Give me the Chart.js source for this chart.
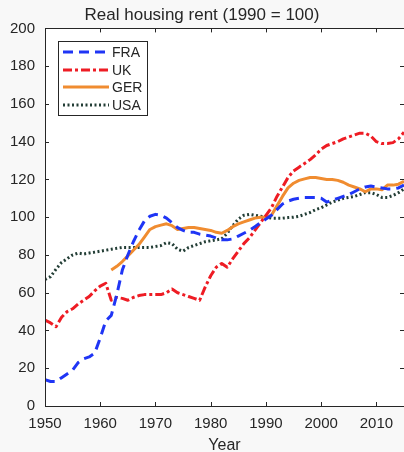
<!DOCTYPE html>
<html>
<head>
<meta charset="utf-8">
<script src="https://cdn.jsdelivr.net/npm/chart.js@4/dist/chart.umd.min.js"></script>
<style>
  html, body { margin: 0; padding: 0; background: #f8f8f8; }
  #wrap { width: 404px; height: 452px; }
</style>
</head>
<body>
<div id="wrap"><canvas id="rentChart" width="404" height="452"></canvas></div>
<script>
// Years on the x axis
const years = [
  1950, 1951, 1952, 1953, 1954, 1955, 1956, 1957, 1958, 1959,
  1960, 1961, 1962, 1963, 1964, 1965, 1966, 1967, 1968, 1969,
  1970, 1971, 1972, 1973, 1974, 1975, 1976, 1977, 1978, 1979,
  1980, 1981, 1982, 1983, 1984, 1985, 1986, 1987, 1988, 1989,
  1990, 1991, 1992, 1993, 1994, 1995, 1996, 1997, 1998, 1999,
  2000, 2001, 2002, 2003, 2004, 2005, 2006, 2007, 2008, 2009,
  2010, 2011, 2012, 2013, 2014, 2015
];

// Real housing rent index (1990 = 100)
const fraValues = [
  14, 13, 13, 15, 17, 19, 23, 25, 26, 28,
  36, 45, 48, 59, 72, 80, 87, 93, 98, 100.5,
  101.5, 101, 99.5, 97, 94.5, 93, 92, 92, 91, 90.5,
  90, 89, 88, 88, 88.5, 90, 91.5, 93, 95, 97,
  99, 101, 104, 107, 108.5, 109.5, 110, 110.5, 110.5, 110.5,
  110, 108, 109, 110, 111, 112, 113.5, 115, 116, 116.5,
  116, 115.5, 115, 115, 115.5, 117
];
const ukValues = [
  45.5, 44, 42, 47, 50, 51.5, 54, 56, 58, 61,
  63.5, 65, 56, 57.5, 57, 56, 57.5, 58.5, 59, 59,
  59, 59, 60, 62, 60, 59, 58, 57, 56, 63,
  69, 73.5, 75.5, 73.5, 78, 82, 86, 89, 93, 97,
  101, 105, 111, 116, 121, 124.5, 126.5, 128.5, 130.5, 133,
  136, 138, 139, 140, 141.5, 142.5, 143.5, 144.5, 144.5, 143,
  140, 139, 139, 139.5, 141.5, 145
];
const gerValues = [
  null, null, null, null, null, null, null, null, null, null,
  null, null, 72, 74, 76.5, 79.5, 82.5, 85.5, 89.5, 93.5,
  95, 95.8, 96.5, 95.5, 93.5, 94, 94.5, 94.5, 94, 93.5,
  93, 92, 91.5, 93, 95, 96.5, 97.5, 98.5, 99.5, 100,
  100, 101, 106, 111, 115.5, 118, 119.5, 120.3, 121, 121,
  120.5, 120, 120, 119.5, 118.5, 117, 116, 115, 113.5, 115,
  115, 114.5, 117, 117, 117.5, 119
];
const usaValues = [
  67, 68.5, 72.5, 76, 78, 80, 81, 80.5, 81, 81.5,
  82, 82.5, 83, 83.5, 84, 84, 84, 84, 84, 84,
  84.5, 85, 86.5, 86, 83, 82, 84, 85, 86, 87,
  87.5, 88, 88.5, 91.5, 95.5, 99, 101, 101.5, 101, 100.5,
  100, 99.5, 99.5, 99.5, 99.8, 100, 100.5, 101.5, 102.5, 104,
  105, 106.5, 108, 109, 110, 110.5, 111, 112, 113, 113,
  112, 110.5, 110.5, 111.5, 113, 115
];

const seriesNames = ['FRA', 'UK', 'GER', 'USA'];
const xTicks = [1950, 1960, 1970, 1980, 1990, 2000, 2010];

const textColor = '#262626';
const fontFamily = 'Liberation Sans, Arial, Helvetica, sans-serif';

function toPoints(values) {
  return years.map((year, i) => ({ x: year, y: values[i] }));
}

// Fill the figure grey and the axes white
const backgroundPlugin = {
  id: 'background',
  beforeDraw(chart) {
    const ctx = chart.ctx;
    const area = chart.chartArea;
    ctx.save();
    ctx.fillStyle = '#f8f8f8';
    ctx.fillRect(0, 0, chart.width, chart.height);
    ctx.fillStyle = '#ffffff';
    ctx.fillRect(area.left, area.top, area.right - area.left, area.bottom - area.top);
    ctx.restore();
  }
};

// Box around the axes with inward ticks on all four sides
const framePlugin = {
  id: 'frame',
  afterDraw(chart) {
    const ctx = chart.ctx;
    const area = chart.chartArea;
    const xScale = chart.scales.x;
    const yScale = chart.scales.y;
    const len = 4;
    ctx.save();
    ctx.strokeStyle = textColor;
    ctx.lineWidth = 1;
    ctx.strokeRect(Math.round(area.left) + 0.5, Math.round(area.top) + 0.5,
      Math.round(area.right - area.left), Math.round(area.bottom - area.top));
    ctx.beginPath();
    xScale.ticks.forEach(t => {
      const px = Math.round(xScale.getPixelForValue(t.value)) + 0.5;
      ctx.moveTo(px, area.bottom);
      ctx.lineTo(px, area.bottom - len);
      ctx.moveTo(px, area.top);
      ctx.lineTo(px, area.top + len);
    });
    yScale.ticks.forEach(t => {
      const py = Math.round(yScale.getPixelForValue(t.value)) + 0.5;
      ctx.moveTo(area.left, py);
      ctx.lineTo(area.left + len, py);
      ctx.moveTo(area.right, py);
      ctx.lineTo(area.right - len, py);
    });
    ctx.stroke();
    ctx.restore();
  }
};

// MATLAB-like legend box in the upper left corner
const legendBoxPlugin = {
  id: 'legendBox',
  afterDraw(chart) {
    const ctx = chart.ctx;
    const box = { x: 58.5, y: 41.5, w: 89, h: 74 };
    const rowY = [52, 70, 87, 105];
    ctx.save();
    ctx.fillStyle = '#ffffff';
    ctx.fillRect(box.x, box.y, box.w, box.h);
    ctx.strokeStyle = textColor;
    ctx.lineWidth = 1;
    ctx.strokeRect(box.x, box.y, box.w, box.h);

    chart.data.datasets.forEach((ds, i) => {
      ctx.save();
      ctx.strokeStyle = ds.borderColor;
      ctx.lineWidth = ds.borderWidth;
      ctx.setLineDash(ds.borderDash || []);
      ctx.beginPath();
      ctx.moveTo(63, rowY[i]);
      ctx.lineTo(109, rowY[i]);
      ctx.stroke();
      ctx.restore();

      ctx.fillStyle = textColor;
      ctx.font = '14px ' + fontFamily;
      ctx.textBaseline = 'middle';
      ctx.textAlign = 'left';
      ctx.fillText(ds.label, 112, rowY[i] + 1);
    });
    ctx.restore();
  }
};

const ctx = document.getElementById('rentChart').getContext('2d');

new Chart(ctx, {
  type: 'line',
  data: {
    datasets: [
      {
        label: seriesNames[0],
        data: toPoints(fraValues),
        borderColor: '#1f35f5',
        borderWidth: 3,
        borderDash: [10, 6]
      },
      {
        label: seriesNames[1],
        data: toPoints(ukValues),
        borderColor: '#ee1c24',
        borderWidth: 3,
        borderDash: [9, 3, 3, 3]
      },
      {
        label: seriesNames[2],
        data: toPoints(gerValues),
        borderColor: '#f08c30',
        borderWidth: 3
      },
      {
        label: seriesNames[3],
        data: toPoints(usaValues),
        borderColor: '#223d35',
        borderWidth: 3,
        borderDash: [2, 2.5]
      }
    ]
  },
  options: {
    responsive: false,
    devicePixelRatio: 1,
    animation: false,
    layout: { padding: { left: 0, right: 0, top: 0, bottom: 0 } },
    elements: {
      point: { radius: 0 },
      line: { tension: 0, borderJoinStyle: 'round' }
    },
    plugins: {
      legend: { display: false },
      tooltip: { enabled: false },
      title: {
        display: true,
        text: 'Real housing rent (1990 = 100)',
        color: textColor,
        font: { family: fontFamily, size: 17, weight: 'normal', lineHeight: 1.2 },
        padding: { top: 5, bottom: 3 }
      }
    },
    scales: {
      x: {
        type: 'linear',
        min: 1950,
        max: 2015,
        afterBuildTicks(scale) {
          scale.ticks = xTicks.map(v => ({ value: v }));
        },
        afterFit(scale) {
          scale.height = 46;
        },
        grid: { display: false, drawTicks: false },
        border: { display: false },
        ticks: {
          color: textColor,
          font: { family: fontFamily, size: 15 },
          padding: 9,
          maxRotation: 0,
          callback: v => String(v)
        },
        title: {
          display: true,
          text: 'Year',
          color: textColor,
          font: { family: fontFamily, size: 16, lineHeight: 1 },
          padding: { top: 0, bottom: -2 }
        }
      },
      y: {
        min: 0,
        max: 200,
        afterFit(scale) {
          scale.width = 45;
        },
        grid: { display: false, drawTicks: false },
        border: { display: false },
        ticks: {
          stepSize: 20,
          color: textColor,
          font: { family: fontFamily, size: 15 },
          padding: 10
        }
      }
    }
  },
  plugins: [backgroundPlugin, framePlugin, legendBoxPlugin]
});
</script>
</body>
</html>
